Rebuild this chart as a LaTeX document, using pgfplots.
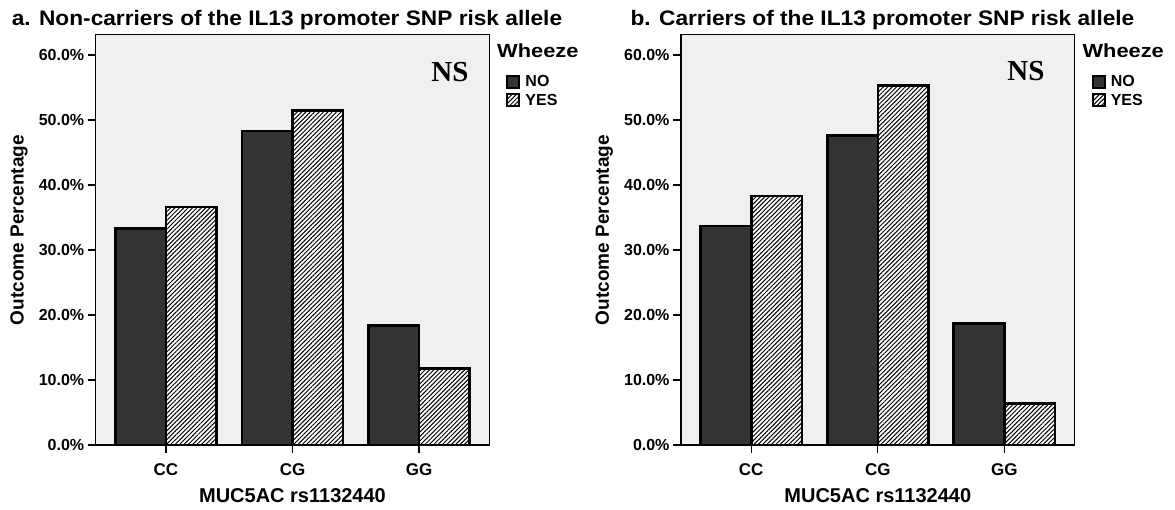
\documentclass[border=0pt]{standalone}
\usepackage{fontspec}
\setmainfont{Liberation Sans}
\newfontfamily\nsfont{Liberation Serif}
\usepackage{pgfplots}
\usepackage{pgfplotstable}
\pgfplotsset{compat=1.18}
\usetikzlibrary{patterns.meta}

\definecolor{panelbg}{HTML}{F0F0F0}
\definecolor{nobar}{HTML}{333333}

% Outcome percentages by MUC5AC rs1132440 genotype (0 = CC, 1 = CG, 2 = GG)
\pgfplotstableread{
cat no yes
0 33.3 36.6
1 48.3 51.5
2 18.4 11.8
}\noncarriers
\pgfplotstableread{
cat no yes
0 33.7 38.3
1 47.6 55.3
2 18.7 6.4
}\carriers

\newcommand\panelfont[1]{\fontsize{#1}{#1}\selectfont\bfseries}

\pgfplotsset{
  wheezebars/.style={
    scale only axis, width=393.6pt, height=410.7pt,
    anchor=south west,
    xmin=-0.555, xmax=2.555, ymin=0, ymax=63.2,
    axis background/.style={fill=panelbg},
    axis line style={line width=1.2pt, black},
    ybar=0pt, bar width=50.6pt,
    xtick={0,1,2}, xticklabels={CC,CG,GG},
    ytick={0,10,...,60},
    tick pos=left, tick align=outside, major tick length=8pt,
    every tick/.style={line width=1.2pt, black},
    xticklabel style={font=\panelfont{17}, yshift=-7pt},
    yticklabel style={font=\panelfont{16}},
    yticklabel={\pgfmathprintnumber[fixed, fixed zerofill, precision=1, assume math mode=true]{\tick}\%},
    xlabel={MUC5AC rs1132440},
    xlabel style={font=\panelfont{20}, at={(axis description cs:0.5,-0.1412)}, anchor=base},
    ylabel={Outcome Percentage},
    ylabel style={font=\panelfont{19}, at={(axis description cs:-0.195,0.523)}, anchor=center},
    legend style={at={(axis description cs:1.0424,0.9030)}, anchor=north west,
      draw=none, fill=none, inner sep=0pt, font=\panelfont{16},
      row sep=4pt, nodes={inner sep=1pt}},
    legend cell align=left,
    legend image code/.code={%
      \draw[#1, line width=2pt] (0pt,-6pt) rectangle (12pt,6pt);
      \path (16pt,0pt);},
    clip=false,
  },
  nostyle/.style={fill=nobar, draw=black, line width=2.6pt},
  yesstyle/.style={fill=white, draw=black, line width=2.6pt,
    postaction={pattern={Lines[angle=45, distance=3.1pt, line width=1pt]}}},
}

\begin{document}
\begin{tikzpicture}[x=1pt, y=1pt]
\path[use as bounding box] (0,0) rectangle (1175,510);

% Panel a
\node[anchor=base] at (287,484) {\scalebox{1.08}[1]{\panelfont{21}a. Non-carriers of the IL13 promoter SNP risk allele}};
\begin{axis}[wheezebars, at={(95.7pt,65pt)}]
  \addplot[nostyle] table[x=cat, y=no] {\noncarriers};
  \addplot[yesstyle] table[x=cat, y=yes] {\noncarriers};
  \legend{NO, YES}
  \node[font=\nsfont\fontsize{29}{29}\selectfont\bfseries] at (rel axis cs:0.9002,0.9082) {NS};
  \node[anchor=base west, inner sep=0pt] at (rel axis cs:1.0196,0.9423) {\scalebox{1.15}[1]{\panelfont{19}Wheeze}};
\end{axis}

% Panel b
\node[anchor=base] at (882.5,484) {\scalebox{1.08}[1]{\panelfont{21}b. Carriers of the IL13 promoter SNP risk allele}};
\begin{axis}[wheezebars, at={(681pt,65pt)}]
  \addplot[nostyle] table[x=cat, y=no] {\carriers};
  \addplot[yesstyle] table[x=cat, y=yes] {\carriers};
  \legend{NO, YES}
  \node[font=\nsfont\fontsize{29}{29}\selectfont\bfseries] at (rel axis cs:0.8765,0.9106) {NS};
  \node[anchor=base west, inner sep=0pt] at (rel axis cs:1.0196,0.9423) {\scalebox{1.15}[1]{\panelfont{19}Wheeze}};
\end{axis}
\end{tikzpicture}
\end{document}
